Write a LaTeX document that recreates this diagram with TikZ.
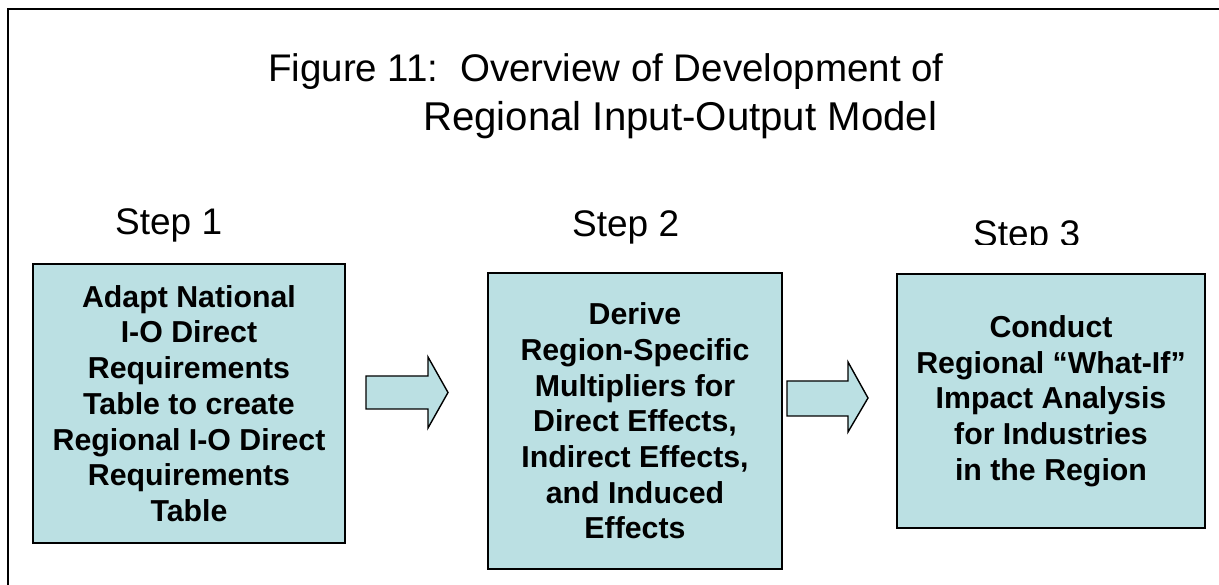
\documentclass[tikz,border=0pt]{standalone}
\usepackage{fontspec}
\setmainfont{Liberation Sans}
\definecolor{boxfill}{RGB}{187,224,227}
\begin{document}
\begin{tikzpicture}[x=1pt,y=-1pt,
  stepbox/.style={draw=black, line width=1.6pt, fill=boxfill, align=center,
    inner sep=0pt, font=\bfseries\fontsize{30.3}{35.7}\selectfont},
  blockarrow/.style={draw=black, line width=1.4pt, fill=boxfill, line join=miter},
  titletext/.style={inner sep=0pt, anchor=base west, font=\fontsize{38.5}{46}\selectfont},
  steptext/.style={inner sep=0pt, anchor=base west, font=\fontsize{37}{44}\selectfont}]
\useasboundingbox (0,0) rectangle (1219,585);
\fill[white] (0,0) rectangle (1219,585);
% frame
\draw[line width=2.6pt] (8,600) -- (8,9) -- (1230,9);
% title
\node[titletext] (t1) at (268,82) {Figure 11:\ \ Overview of Development of};
\node[titletext, font=\fontsize{40.2}{46}\selectfont] (t2) at (423,131) {Regional Input-Output Model};
% step labels
\node[steptext] (s1) at (115,235) {Step 1};
\node[steptext] (s2) at (572,237) {Step 2};
\begin{scope}
\clip (900,190) rectangle (1219,245);
\node[steptext] (s3) at (973,247) {Step 3};
\end{scope}
% boxes
\node[stepbox, minimum width=312pt, minimum height=279pt] (b1) at (189,403.5)
  {Adapt National\\I-O Direct\\Requirements\\Table to create\\Regional I-O Direct\\Requirements\\Table};
\node[stepbox, minimum width=294pt, minimum height=296pt] (b2) at (635,421)
  {Derive\\Region-Specific\\Multipliers for\\Direct Effects,\\Indirect Effects,\\and Induced\\Effects};
\node[stepbox, minimum width=308pt, minimum height=254pt] (b3) at (1051,401)
  {Conduct\\Regional ``What-If''\\Impact Analysis\\for Industries\\in the Region};
% block arrows
\draw[blockarrow] (366,376) -- (428,376) -- (428,357) -- (448,392.5) -- (428,428)
  -- (428,409) -- (366,409) -- cycle;
\draw[blockarrow] (787,381) -- (848,381) -- (848,362) -- (868,398) -- (848,432)
  -- (848,416) -- (787,416) -- cycle;
\end{tikzpicture}
\end{document}
